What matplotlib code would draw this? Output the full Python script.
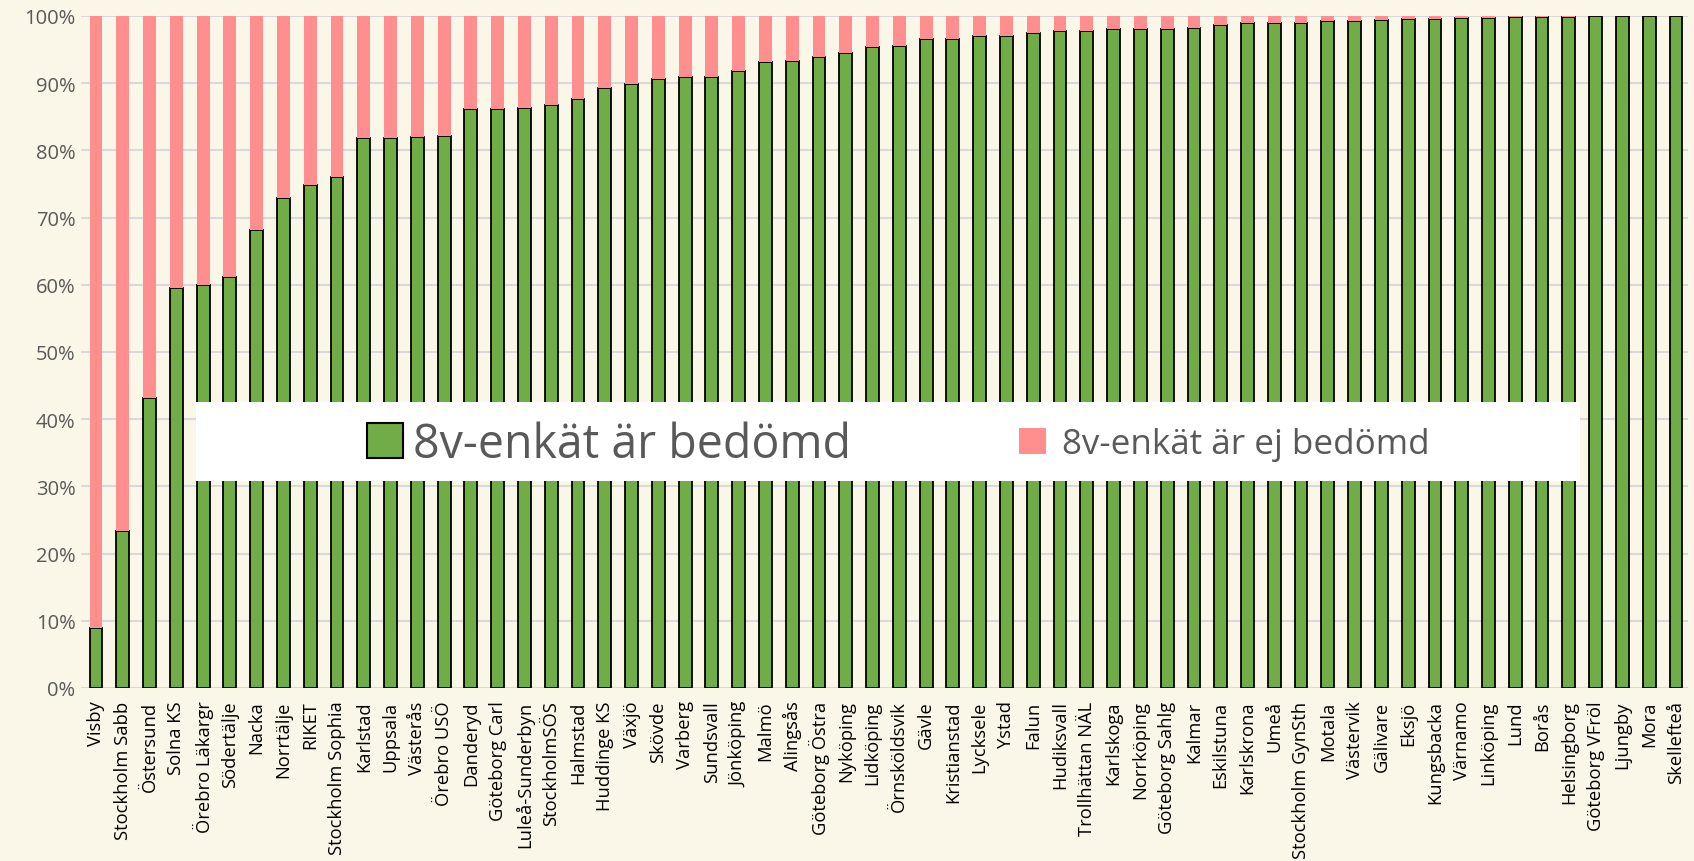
import matplotlib.pyplot as plt
from matplotlib.patches import Patch, Rectangle
from matplotlib.ticker import PercentFormatter
import numpy as np

# sjukhus / kliniker, sorterade efter andel bedömda
sites = ["Visby", "Stockholm Sabb", "Östersund", "Solna KS", "Örebro Läkargr",
         "Södertälje", "Nacka", "Norrtälje", "RIKET", "Stockholm Sophia",
         "Karlstad", "Uppsala", "Västerås", "Örebro USÖ", "Danderyd",
         "Göteborg Carl", "Luleå-Sunderbyn", "StockholmSÖS", "Halmstad", "Huddinge KS",
         "Växjö", "Skövde", "Varberg", "Sundsvall", "Jönköping",
         "Malmö", "Alingsås", "Göteborg Östra", "Nyköping", "Lidköping",
         "Örnsköldsvik", "Gävle", "Kristianstad", "Lycksele", "Ystad",
         "Falun", "Hudiksvall", "Trollhättan NÄL", "Karlskoga", "Norrköping",
         "Göteborg Sahlg", "Kalmar", "Eskilstuna", "Karlskrona", "Umeå",
         "Stockholm GynSth", "Motala", "Västervik", "Gälivare", "Eksjö",
         "Kungsbacka", "Värnamo", "Linköping", "Lund", "Borås",
         "Helsingborg", "Göteborg VFröl", "Ljungby", "Mora", "Skellefteå"]

# andel (%) där 8v-enkät är bedömd
bedomd = [8.9, 23.3, 43.1, 59.5, 60.0,
          61.1, 68.2, 72.9, 74.9, 76.0,
          81.8, 81.8, 82.0, 82.2, 86.1,
          86.1, 86.3, 86.8, 87.6, 89.3,
          89.9, 90.6, 90.9, 90.9, 91.8,
          93.2, 93.3, 93.9, 94.5, 95.4,
          95.5, 96.6, 96.6, 97.0, 97.0,
          97.4, 97.7, 97.8, 98.0, 98.0,
          98.1, 98.2, 98.7, 98.9, 98.9,
          99.0, 99.2, 99.3, 99.4, 99.5,
          99.6, 99.75, 99.75, 99.8, 99.85,
          99.85, 100.0, 100.0, 100.0, 100.0]

ej_bedomd = [100 - v for v in bedomd]

green = "#70AD47"
pink = "#FF8F8F"
bg = "#FBF7E8"
grey_txt = "#595959"

plt.rcParams["font.family"] = ["Open Sans", "DejaVu Sans"]

fig = plt.figure(figsize=(16.94, 8.62), dpi=100, facecolor=bg)
ax = fig.add_axes([81/1694, 173/862, (1688-81)/1694, (689-17)/862])
ax.set_facecolor(bg)

x = np.arange(len(sites))
w = 0.48
ax.bar(x, bedomd, w, color=green, edgecolor="black", linewidth=1.3, zorder=3)
ax.bar(x, ej_bedomd, w, bottom=bedomd, color=pink, edgecolor="none", zorder=3)

ax.set_xlim(-0.56, 59.45)
ax.set_ylim(0, 100)
ax.set_yticks(np.arange(0, 101, 10))
ax.yaxis.set_major_formatter(PercentFormatter(decimals=0))
ax.grid(axis="y", color="#D9D9D9", linewidth=1.5, zorder=0)
ax.set_axisbelow(True)
for s in ax.spines.values():
    s.set_visible(False)

ax.set_xticks(x)
ax.set_xticklabels(sites, rotation=90, fontsize=13.2, color="black")
ax.tick_params(axis="x", length=0, pad=9)
ax.tick_params(axis="y", length=0, pad=4, labelsize=14.5, labelcolor=grey_txt)

# vit legendruta mitt i diagrammet
ax.add_patch(Rectangle((196/1694, 1 - 482/862), (1580-196)/1694, (482-403)/862,
                       transform=fig.transFigure, facecolor="white",
                       edgecolor="none", zorder=4))

ycen = 1 - 445/862
leg1 = fig.legend(handles=[Patch(facecolor=green, edgecolor="black", linewidth=1.5)],
                  labels=["8v-enkät är bedömd"], loc="center left",
                  bbox_to_anchor=(367/1694, ycen), frameon=False, fontsize=33.5,
                  borderpad=0, borderaxespad=0, handlelength=0.78, handleheight=0.78,
                  handletextpad=0.2, labelcolor=grey_txt)
leg2 = fig.legend(handles=[Patch(facecolor=pink, edgecolor="none")],
                  labels=["8v-enkät är ej bedömd"], loc="center left",
                  bbox_to_anchor=(1019/1694, ycen), frameon=False, fontsize=25.2,
                  borderpad=0, borderaxespad=0, handlelength=0.78, handleheight=0.78,
                  handletextpad=0.45, labelcolor=grey_txt)
leg1.set_zorder(6)
leg2.set_zorder(6)

fig.savefig("out.png", dpi=100, facecolor=bg)
